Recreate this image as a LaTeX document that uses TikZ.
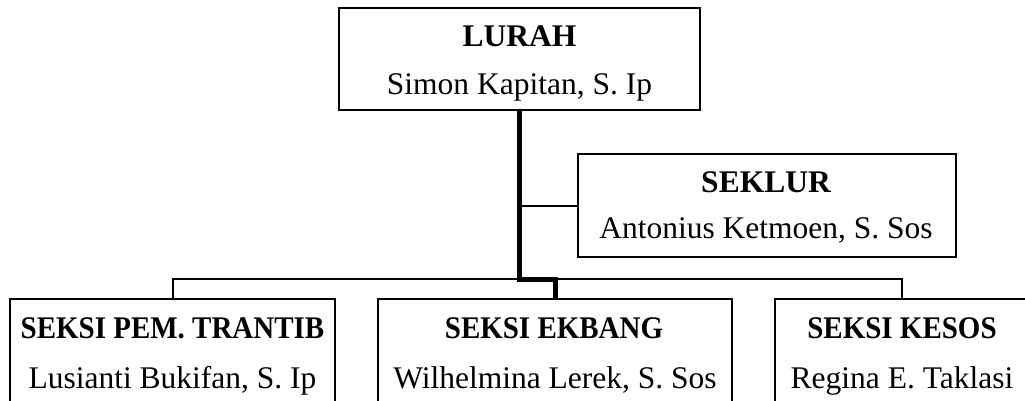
\documentclass[tikz,border=0pt]{standalone}
\usepackage{fontspec}
\usepackage{graphicx}
\setmainfont{Liberation Serif}
% condensed bold titles of the section boxes
\newcommand\condensed[1]{\scalebox{0.92}[1]{#1}}
\begin{document}
\begin{tikzpicture}[x=1pt,y=-1pt,
  box/.style={draw, line width=2.2pt, inner sep=0pt},
  txt/.style={anchor=base, inner sep=0pt, font=\fontsize{31.5}{36}\selectfont},
  ttl/.style={txt, font=\fontsize{31.5}{36}\selectfont\bfseries},
  thin/.style={line width=2pt},
  trunk/.style={line width=5pt}]
\useasboundingbox (0,0) rectangle (1025,401);
\clip (0,0) rectangle (1025,401);

% boxes
\node[box, minimum width=361pt, minimum height=102pt] (lurah) at (519.5,59) {};
\node[box, minimum width=378pt, minimum height=103pt] (seklur) at (767,205.5) {};
\node[box, minimum width=325pt, minimum height=150pt] (pem) at (172.5,374) {};
\node[box, minimum width=354pt, minimum height=150pt] (ekbang) at (555,374) {};
\node[box, minimum width=254pt, minimum height=150pt] (kesos) at (902,374) {};

% texts
\node[ttl] (t1) at (519.5,47) {LURAH};
\node[txt] (n1) at (519.5,95) {Simon Kapitan, S. Ip};
\node[ttl] (t2) at (766,192) {SEKLUR};
\node[txt] (n2) at (766,238) {Antonius Ketmoen, S. Sos};
\node[ttl] (t3) at (172.5,338) {\condensed{SEKSI PEM. TRANTIB}};
\node[txt] (n3) at (172.5,388) {Lusianti Bukifan, S. Ip};
\node[ttl] (t4) at (554,338) {\condensed{SEKSI EKBANG}};
\node[txt] (n4) at (555,388) {Wilhelmina Lerek, S. Sos};
\node[ttl] (t5) at (902,338) {\condensed{SEKSI KESOS}};
\node[txt] (n5) at (902,388) {Regina E. Taklasi};

% connectors
\coordinate (bus) at (520,279);
\draw[thin] (pem.north) |- (kesos.north |- bus) -- (kesos.north);
\draw[thin] (lurah.south |- seklur.west) -- (seklur.west);
\draw[trunk] (lurah.south) -- (lurah.south |- bus) -| (ekbang.north);
\end{tikzpicture}
\end{document}
